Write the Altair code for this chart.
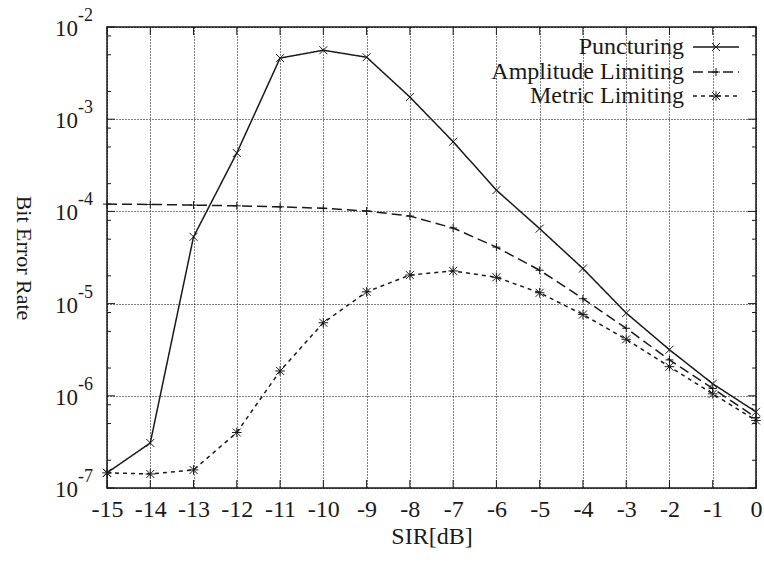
import altair as alt
import pandas as pd

sir = list(range(-15, 1))
puncturing = [1.46e-7, 3.08e-7, 5.3e-5, 4.3e-4, 4.6e-3, 5.6e-3, 4.7e-3, 1.74e-3,
              5.7e-4, 1.7e-4, 6.5e-5, 2.4e-5, 7.9e-6, 3.16e-6, 1.35e-6, 6.7e-7]
amplitude = [1.2e-4, 1.19e-4, 1.17e-4, 1.15e-4, 1.12e-4, 1.08e-4, 1.01e-4, 8.9e-5,
             6.6e-5, 4.1e-5, 2.3e-5, 1.13e-5, 5.4e-6, 2.45e-6, 1.2e-6, 5.8e-7]
metric = [1.46e-7, 1.42e-7, 1.57e-7, 4.0e-7, 1.86e-6, 6.2e-6, 1.34e-5, 2.04e-5,
          2.26e-5, 1.93e-5, 1.31e-5, 7.6e-6, 4.1e-6, 2.07e-6, 1.05e-6, 5.4e-7]
series_names = ["Puncturing", "Amplitude Limiting", "Metric Limiting"]
exponents = [-2, -3, -4, -5, -6, -7]
minor_mult = [2, 5, 8]

FONT = "Liberation Serif"
INK = "#1a1a1a"
W, H = 649, 461

XS = alt.Scale(domain=[-15, 0], nice=False, zero=False)
YS = alt.Scale(type="log", domain=[1e-7, 1e-2], nice=False)

decades = [10.0 ** e for e in exponents]
minors = [m * 10.0 ** e for e in exponents[1:] for m in minor_mult]

df = pd.DataFrame({
    "sir": sir * 3,
    "ber": puncturing + amplitude + metric,
    "series": [s for s in series_names for _ in sir],
})

X_AXIS = alt.Axis(values=sir, title="SIR[dB]", grid=True, gridDash=[1, 2],
                  gridColor="#000", gridOpacity=1, gridWidth=1,
                  domain=False, ticks=False, labelFont=FONT, labelFontSize=24,
                  labelColor=INK, labelPadding=9, labelFlush=False,
                  labelExpr="'' + datum.value",
                  titleFont=FONT, titleFontSize=24, titleFontWeight="normal",
                  titleColor=INK, titleY=48, titleBaseline="middle")
Y_AXIS = alt.Axis(values=decades, title="Bit Error Rate", grid=True, gridDash=[1, 2],
                  gridColor="#000", gridOpacity=1, gridWidth=1,
                  domain=False, ticks=False, labels=False,
                  titleFont=FONT, titleFontSize=22, titleFontWeight="normal",
                  titleColor=INK, titleAngle=90, titleX=-84, titleY=H / 2,
                  titleAlign="center", titleBaseline="middle")


def xe(field="sir"):
    return alt.X(f"{field}:Q", scale=XS, axis=X_AXIS)


def ye(field="ber"):
    return alt.Y(f"{field}:Q", scale=YS, axis=Y_AXIS)


dash = {"Puncturing": [1, 0], "Amplitude Limiting": [10, 5], "Metric Limiting": [4, 4]}
shape = {
    "Puncturing": "M-1,-1L1,1M-1,1L1,-1",
    "Amplitude Limiting": "M-1,0L1,0M0,-1L0,1",
    "Metric Limiting": "M-1,-1L1,1M-1,1L1,-1M-1.2,0L1.2,0M0,-1.2L0,1.2",
}

layers = []
base = alt.Chart(df).encode(x=xe(), y=ye())
for s in series_names:
    sub = base.transform_filter(alt.datum.series == s)
    layers.append(sub.mark_line(color=INK, strokeWidth=1.5, strokeDash=dash[s]))
    layers.append(sub.mark_point(shape=shape[s], size=64, filled=False, color=INK,
                                 strokeWidth=1, opacity=1))

# Inward tick marks derived from the tick arrays
ydec = pd.DataFrame({"ber": decades})
ymin = pd.DataFrame({"ber": minors})
xt = pd.DataFrame({"sir": sir})
for d, ln in ((ydec, 8), (ymin, 4)):
    layers.append(alt.Chart(d).mark_rule(color=INK, strokeWidth=1).encode(
        y=ye(), x=alt.value(0), x2=alt.value(ln)))
    layers.append(alt.Chart(d).mark_rule(color=INK, strokeWidth=1).encode(
        y=ye(), x=alt.value(W - ln), x2=alt.value(W)))
layers.append(alt.Chart(xt).mark_rule(color=INK, strokeWidth=1).encode(
    x=xe(), y=alt.value(H), y2=alt.value(H - 8)))
layers.append(alt.Chart(xt).mark_rule(color=INK, strokeWidth=1).encode(
    x=xe(), y=alt.value(0), y2=alt.value(8)))

# Y tick labels 10^n
lab = pd.DataFrame({"ber": decades, "base": ["10"] * len(decades),
                    "exp": [str(e) for e in exponents]})
layers.append(alt.Chart(lab).mark_text(font=FONT, fontSize=23, align="right",
                                       baseline="middle", color=INK, dy=2).encode(
    y=ye(), x=alt.value(-29), text="base:N"))
layers.append(alt.Chart(lab).mark_text(font=FONT, fontSize=18, align="left",
                                       baseline="middle", color=INK, dy=-11).encode(
    y=ye(), x=alt.value(-29), text="exp:N"))

# Legend (labels left, samples right)
leg_y = [20, 45, 69]
for i, s in enumerate(series_names):
    ldf = pd.DataFrame({"name": [s]})
    layers.append(alt.Chart(ldf).mark_text(font=FONT, fontSize=24, align="right",
                                           baseline="middle", color=INK).encode(
        x=alt.value(577), y=alt.value(leg_y[i]), text="name:N"))
    layers.append(alt.Chart(ldf).mark_rule(color=INK, strokeWidth=1.5,
                                           strokeDash=dash[s]).encode(
        x=alt.value(586), x2=alt.value(632), y=alt.value(leg_y[i])))
    layers.append(alt.Chart(ldf).mark_point(shape=shape[s], size=64, filled=False,
                                            color=INK, strokeWidth=1, opacity=1).encode(
        x=alt.value(609), y=alt.value(leg_y[i])))

chart = alt.layer(*layers).properties(
    width=W, height=H,
    padding={"left": 107, "top": 27, "right": 8, "bottom": 74},
    autosize=alt.AutoSizeParams(type="none"),
    background="white",
).configure_view(stroke=INK, strokeWidth=1.5)

chart.save("out.html", embed_options={"renderer": "svg", "actions": False})
